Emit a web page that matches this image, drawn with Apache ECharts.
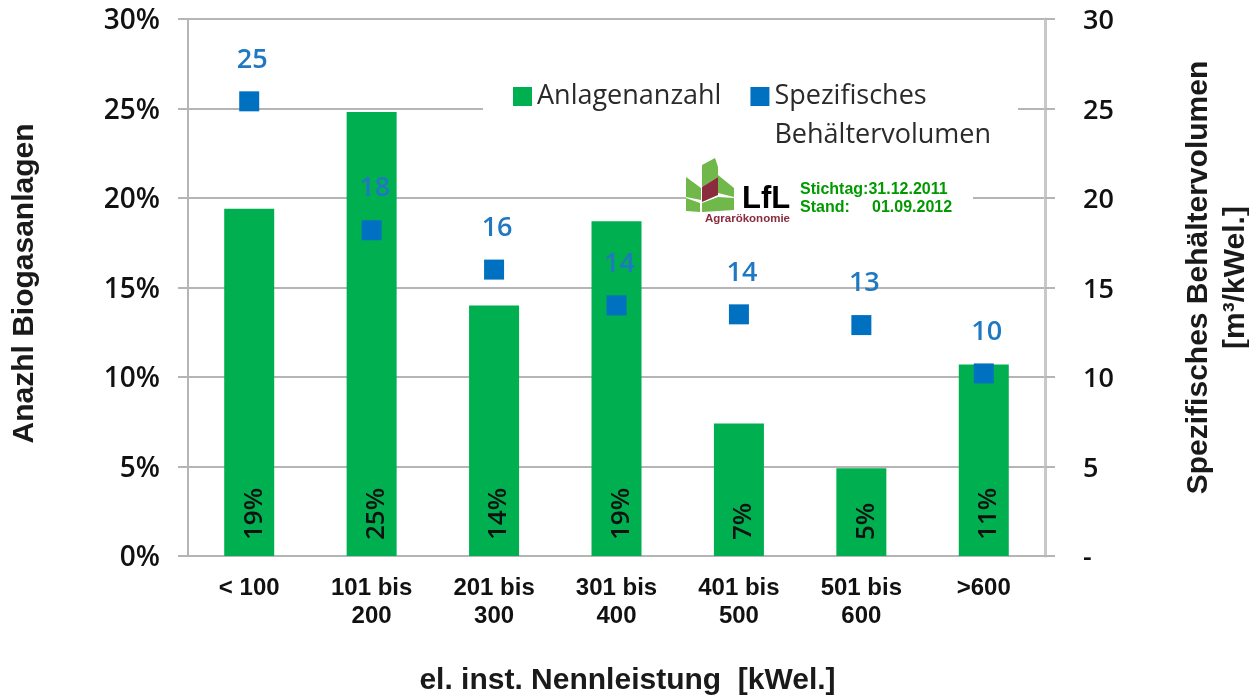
<!DOCTYPE html>
<html>
<head>
<meta charset="utf-8">
<title>Biogasanlagen</title>
<script src="https://cdn.jsdelivr.net/npm/echarts@6/dist/echarts.min.js"></script>
<style>
html, body { margin: 0; padding: 0; background: #fff; }
#main { width: 1249px; height: 695px; }
</style>
</head>
<body>
<div id="main"></div>
<script>
var categories = ['< 100', '101 bis\n200', '201 bis\n300', '301 bis\n400', '401 bis\n500', '501 bis\n600', '>600'];
var anlagenanzahl = [19.4, 24.8, 14.0, 18.7, 7.4, 4.9, 10.7];
var behaeltervolumen = [25.4, 18.2, 16.0, 14.0, 13.5, 12.9, 10.2];
var rightTicks = ['-', '5', '10', '15', '20', '25', '30'];

var tickFont = 'Open Sans';
var textFont = 'Liberation Sans';
var gridColor = '#b5b5b5';

var myChart = echarts.init(document.getElementById('main'));

var option = {
    animation: false,
    backgroundColor: '#fff',
    grid: { left: 188, right: 204, top: 19, bottom: 139, outerBoundsMode: 'none' },
    legend: {
        left: 513,
        top: 38,
        padding: 0,
        itemWidth: 19,
        itemHeight: 19,
        itemGap: 29,
        data: [
            { name: 'Anlagenanzahl', icon: 'rect' },
            { name: 'Spezifisches\nBehältervolumen', icon: 'rect' }
        ],
        // empty first line keeps the square next to the first line of the long name
        formatter: function (name) {
            return name.indexOf('\n') > 0 ? '\n' + name : name;
        },
        textStyle: { fontFamily: tickFont, fontSize: 27, color: '#2a2a2a', lineHeight: 39 }
    },
    xAxis: {
        type: 'category',
        data: categories,
        name: 'el. inst. Nennleistung  [kWel.]',
        nameLocation: 'middle',
        nameGap: 110,
        nameTextStyle: { fontFamily: textFont, fontSize: 30, fontWeight: 'bold', color: '#1a1a1a', padding: [0, 0, 0, 22] },
        axisLine: { lineStyle: { color: gridColor, width: 2 } },
        axisTick: { length: 10, alignWithLabel: false, lineStyle: { color: gridColor, width: 2 } },
        axisLabel: { fontFamily: textFont, fontSize: 24, fontWeight: 'bold', color: '#111', margin: 18, lineHeight: 28, interval: 0 }
    },
    yAxis: [
        {
            type: 'value',
            min: 0,
            max: 30,
            interval: 5,
            name: 'Anazhl Biogasanlagen',
            nameLocation: 'middle',
            nameGap: 148,
            nameRotate: 90,
            nameTextStyle: { fontFamily: textFont, fontSize: 30, fontWeight: 'bold', color: '#1a1a1a', padding: [0, 0, 0, 8] },
            axisLine: { show: true, lineStyle: { color: gridColor, width: 2 } },
            axisTick: { show: true, length: 10, lineStyle: { color: gridColor, width: 2 } },
            axisLabel: {
                margin: 28,
                formatter: '{t|{value}%}',
                rich: { t: { fontFamily: tickFont, fontSize: 28, fontWeight: 600, color: '#111', padding: [5, 0, 0, 0] } }
            },
            splitLine: { show: true, lineStyle: { color: gridColor, width: 2 } }
        },
        {
            type: 'value',
            min: 0,
            max: 30,
            interval: 5,
            position: 'right',
            name: 'Spezifisches Behältervolumen\n[m³/kWel.]',
            nameLocation: 'middle',
            nameGap: 135,
            nameRotate: 90,
            nameTextStyle: { fontFamily: textFont, fontSize: 30, fontWeight: 'bold', color: '#1a1a1a', lineHeight: 37, padding: [0, 0, 0, 20] },
            axisLine: { show: true, lineStyle: { color: '#c8c8c8', width: 3 } },
            axisTick: { show: true, length: 10, lineStyle: { color: gridColor, width: 2 } },
            axisLabel: {
                margin: 38,
                formatter: function (v) { return '{t|' + rightTicks[v / 5] + '}'; },
                rich: { t: { fontFamily: tickFont, fontSize: 27, fontWeight: 600, color: '#111', padding: [5, 0, 0, 0] } }
            },
            splitLine: { show: false }
        }
    ],
    series: [
        {
            name: 'Anlagenanzahl',
            type: 'bar',
            data: anlagenanzahl,
            barWidth: 50,
            z: 3,
            itemStyle: { color: '#00b050' },
            label: {
                show: true,
                position: 'insideBottom',
                distance: 17,
                offset: [-1, 5],
                rotate: 90,
                align: 'left',
                verticalAlign: 'middle',
                fontFamily: tickFont,
                fontSize: 26,
                fontWeight: 600,
                color: '#111',
                formatter: function (p) { return Math.round(p.value) + '%'; }
            }
        },
        {
            name: 'Spezifisches\nBehältervolumen',
            type: 'scatter',
            yAxisIndex: 1,
            data: behaeltervolumen,
            symbol: 'rect',
            symbolSize: 20,
            z: 4,
            itemStyle: { color: '#0070c0', opacity: 1 },
            label: {
                show: true,
                position: 'top',
                distance: 18,
                offset: [3, 0],
                fontFamily: tickFont,
                fontSize: 27,
                fontWeight: 600,
                color: '#1f78c1',
                formatter: function (p) { return Math.round(p.value); }
            }
        }
    ],
    graphic: [
        // white boxes behind the legend and the logo, they cut the grid lines
        { type: 'rect', z: 1, shape: { x: 483, y: 80, width: 535, height: 70 }, style: { fill: '#fff' } },
        { type: 'rect', z: 1, shape: { x: 686, y: 155, width: 287, height: 70 }, style: { fill: '#fff' } },
        // logo
        { type: 'polygon', z: 5, shape: { points: [[686, 177], [701, 188], [701, 200], [686, 197]] }, style: { fill: '#70b84a' } },
        { type: 'polygon', z: 5, shape: { points: [[702, 165], [715, 158], [718, 167], [718, 177], [702, 187]] }, style: { fill: '#70b84a' } },
        { type: 'polygon', z: 5, shape: { points: [[718, 175], [734, 188], [734, 197], [718, 193]] }, style: { fill: '#70b84a' } },
        { type: 'polygon', z: 5, shape: { points: [[702, 187], [718, 177], [718, 195], [702, 202]] }, style: { fill: '#8a2b3e' } },
        { type: 'polygon', z: 5, shape: { points: [[686, 198], [700, 203], [700, 212], [686, 211]] }, style: { fill: '#70b84a' } },
        { type: 'polygon', z: 5, shape: { points: [[702, 203], [718, 197], [734, 198], [734, 210], [702, 212]] }, style: { fill: '#70b84a' } },
        { type: 'text', z: 5, left: 742, top: 184, style: { text: 'LfL', fill: '#000', font: 'bold 31px "Liberation Sans"' } },
        { type: 'text', z: 5, left: 705, top: 213, style: { text: 'Agrarökonomie', fill: '#8a2b3e', font: 'bold 11.5px "Liberation Sans"' } },
        { type: 'text', z: 5, left: 800, top: 182, style: { text: 'Stichtag:31.12.2011', fill: '#009a00', font: 'bold 16px "Liberation Sans"' } },
        { type: 'text', z: 5, left: 800, top: 200, style: { text: 'Stand:     01.09.2012', fill: '#009a00', font: 'bold 16px "Liberation Sans"' } }
    ]
};

myChart.setOption(option);
</script>
</body>
</html>
